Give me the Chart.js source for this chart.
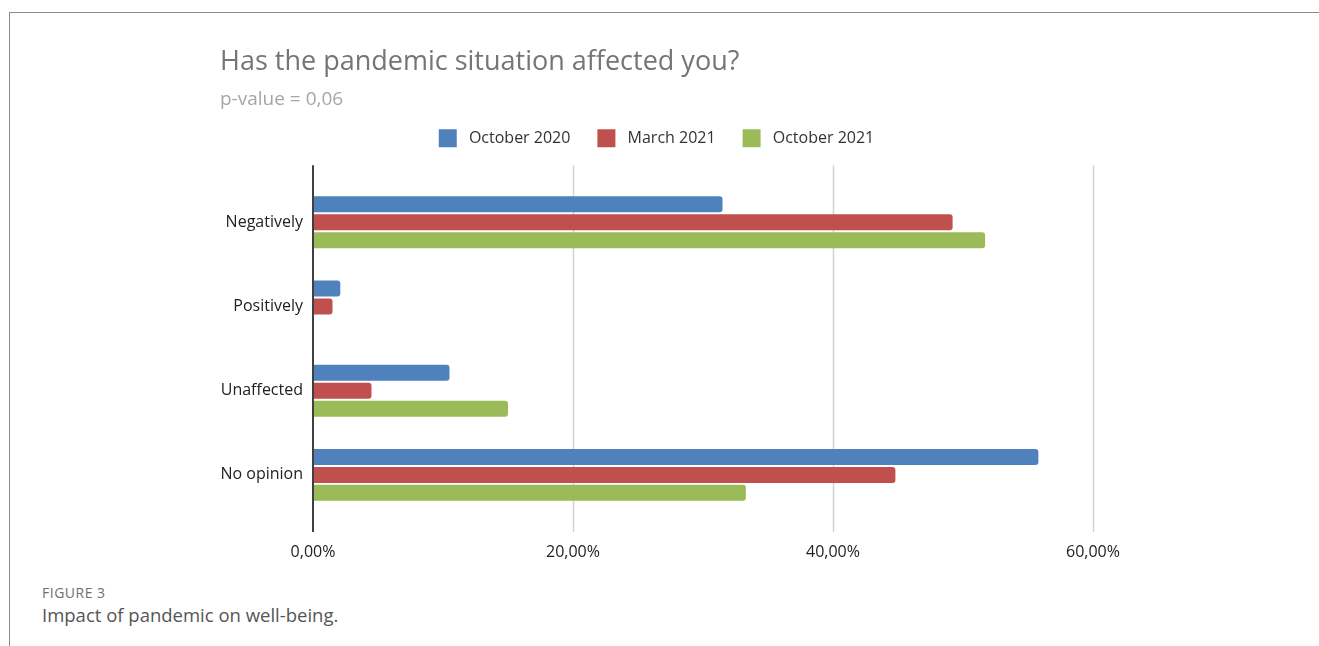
<!DOCTYPE html>
<html>
<head>
<meta charset="utf-8">
<script src="https://cdn.jsdelivr.net/npm/chart.js@4.4.1/dist/chart.umd.min.js"></script>
<style>
  html, body { margin: 0; padding: 0; background: #fff; }
  body { width: 1319px; height: 646px; position: relative; overflow: hidden; font-family: "Open Sans", sans-serif; }
  .frame { position: absolute; left: 9px; top: 12px; width: 1400px; height: 700px; border-top: 1.5px solid #8a8a8a; border-left: 1.5px solid #8a8a8a; }
  .chart-box { position: absolute; left: 212px; top: 30px; width: 913px; height: 547px; }
  .fig { position: absolute; left: 42px; top: 583px; font-size: 14px; color: #6f6f6f; letter-spacing: 0.5px; }
  .caption { position: absolute; left: 42px; top: 602px; font-size: 18.5px; color: #555; }
</style>
</head>
<body>
<div class="frame"></div>
<div class="chart-box"><canvas id="bar-chart"></canvas></div>
<div class="fig">FIGURE 3</div>
<div class="caption">Impact of pandemic on well-being.</div>
<script>
// answers and survey waves
const categories = ["Negatively", "Positively", "Unaffected", "No opinion"];
const waves = ["October 2020", "March 2021", "October 2021"];
const oct2020 = [31.5, 2.1, 10.5, 55.8];
const mar2021 = [49.2, 1.5, 4.5, 44.8];
const oct2021 = [51.7, 0, 15.0, 33.3];
const xTicks = [0, 20, 40, 60];

const colors = ["#4f81bd", "#c0504d", "#9bbb59"];

// grid + axis lines go a bit past the plot, like the original
const extendedGrid = {
  id: "extendedGrid",
  beforeDatasetsDraw(chart) {
    const { ctx, chartArea, scales } = chart;
    ctx.save();
    scales.x.ticks.forEach((t) => {
      if (t.value === 0) return;
      const px = Math.round(scales.x.getPixelForValue(t.value)) + 0.5;
      ctx.beginPath();
      ctx.lineWidth = 1.5;
      ctx.strokeStyle = "#d2d2d2";
      ctx.moveTo(px, chartArea.top - 15);
      ctx.lineTo(px, chartArea.bottom + 15);
      ctx.stroke();
    });
    ctx.restore();
  },
  afterDatasetsDraw(chart) {
    const { ctx, chartArea, scales } = chart;
    const px = Math.round(scales.x.getPixelForValue(0));
    ctx.save();
    ctx.beginPath();
    ctx.lineWidth = 2;
    ctx.strokeStyle = "#404040";
    ctx.moveTo(px, chartArea.top - 15);
    ctx.lineTo(px, chartArea.bottom + 15);
    ctx.stroke();
    ctx.restore();
  },
};

// more room under the legend
const legendGap = {
  id: "legendGap",
  beforeInit(chart) {
    const fit = chart.legend.fit;
    chart.legend.fit = function () {
      fit.bind(chart.legend)();
      this.height += 23;
    };
  },
};

const font = (size) => ({ family: "Open Sans", size: size });

const ctx = document.getElementById("bar-chart");
const myBarChart = new Chart(ctx, {
  type: "bar",
  data: {
    labels: categories,
    datasets: [oct2020, mar2021, oct2021].map((d, i) => ({
      label: waves[i],
      data: d,
      backgroundColor: colors[i],
      borderRadius: 3,
      borderSkipped: "start",
      barPercentage: 0.89,
      categoryPercentage: 0.64,
    })),
  },
  options: {
    indexAxis: "y",
    responsive: true,
    maintainAspectRatio: false,
    animation: false,
    layout: { padding: { left: 8, right: 32, top: 0, bottom: 0 } },
    plugins: {
      title: {
        display: true,
        text: "Has the pandemic situation affected you?",
        align: "start",
        color: "#757575",
        font: { family: "Open Sans", size: 27, weight: "normal" },
        padding: { top: 16, bottom: 10 },
      },
      subtitle: {
        display: true,
        text: "p-value = 0,06",
        align: "start",
        color: "#a6a6a6",
        font: font(19),
        padding: { top: 0, bottom: -9 },
      },
      legend: {
        position: "top",
        labels: {
          boxWidth: 18,
          boxHeight: 18,
          padding: 27,
          color: "#333",
          font: font(16),
          generateLabels: (chart) =>
            Chart.defaults.plugins.legend.labels.generateLabels(chart).map((item) => ({ ...item, text: " " + item.text })),
        },
      },
      tooltip: { enabled: false },
    },
    scales: {
      x: {
        min: 0,
        max: 60,
        afterBuildTicks: (axis) => { axis.ticks = xTicks.map((v) => ({ value: v })); },
        afterFit: (axis) => { axis.height = 60; axis.paddingRight = 0; },
        grid: { display: false, drawTicks: false },
        border: { display: false },
        ticks: {
          padding: 26,
          color: "#222",
          font: font(16),
          callback: (v) => v.toFixed(2).replace(".", ",") + "%",
        },
      },
      y: {
        afterFit: (axis) => { axis.width = 93; },
        grid: { display: false, drawTicks: false },
        border: { display: false },
        ticks: {
          padding: 10,
          color: "#222",
          font: font(16),
        },
      },
    },
  },
  plugins: [extendedGrid, legendGap],
});
</script>
</body>
</html>
